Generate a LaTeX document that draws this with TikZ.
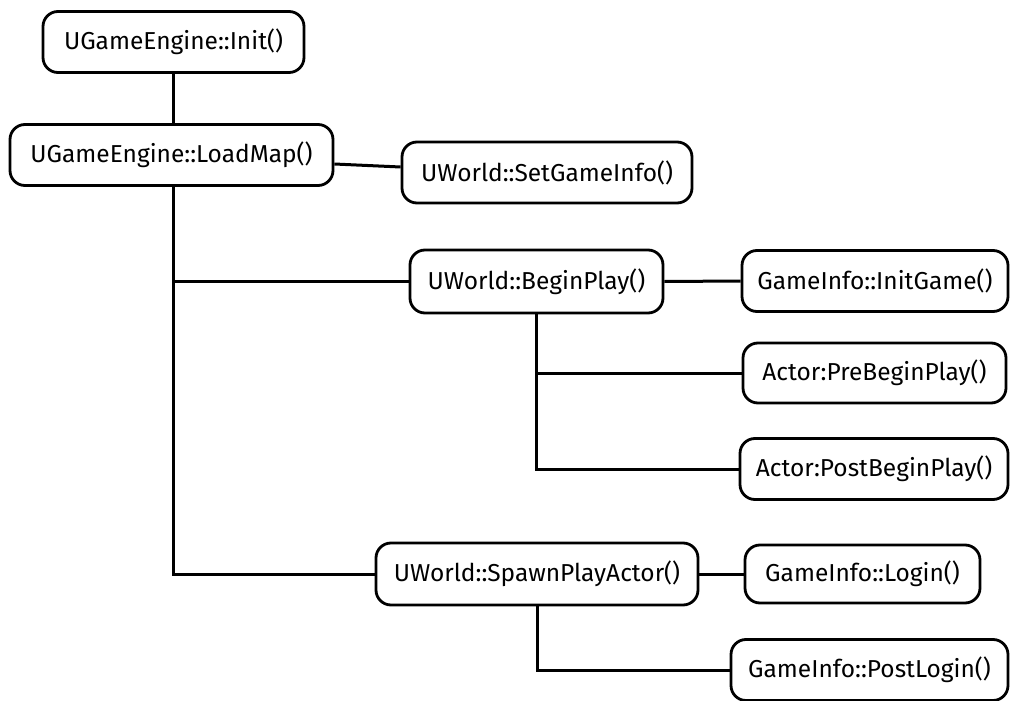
\documentclass[tikz,border=0pt]{standalone}
\usepackage{fontspec}
\setmainfont{Fira Sans}
\begin{document}
\begin{tikzpicture}[x=1pt,y=-1pt,
  fn/.style={draw, line width=2.8pt, rounded corners=15pt, inner sep=0pt,
    minimum height=61pt, align=center, font=\fontsize{24.5}{28}\selectfont},
  link/.style={line width=3pt}]
\useasboundingbox (0,0) rectangle (1010,701);
% call boxes
\node[fn, minimum width=261pt] (init)   at (173.5,42)  {UGameEngine::Init()};
\node[fn, minimum width=323pt] (load)   at (171.5,155) {UGameEngine::LoadMap()};
\node[fn, minimum width=290pt] (setgi)  at (547,172.5) {UWorld::SetGameInfo()};
\node[fn, minimum width=253pt, minimum height=63pt] (begin) at (536.5,281.5) {UWorld::BeginPlay()};
\node[fn, minimum width=266pt] (initg)  at (875,281)   {GameInfo::InitGame()};
\node[fn, minimum width=263pt, minimum height=60pt] (pre) at (874.5,373) {Actor:PreBeginPlay()};
\node[fn, minimum width=268pt] (post)   at (874,469)   {Actor:PostBeginPlay()};
\node[fn, minimum width=322pt, minimum height=62pt] (spawn) at (537,574) {UWorld::SpawnPlayActor()};
\node[fn, minimum width=235pt, minimum height=58pt] (login) at (862.5,574) {GameInfo::Login()};
\node[fn, minimum width=277pt] (plogin) at (869.5,670) {GameInfo::PostLogin()};
% call tree
\draw[link] (init.south) -- (init.south |- load.north);
\draw[link] ([yshift=-9pt]load.east) -- ([yshift=5.5pt]setgi.west);
\draw[link] ([xshift=1.5pt]load.south) -- ([xshift=1.5pt]load.south |- spawn.west) -- (spawn.west);
\draw[link] ([xshift=1.5pt]load.south |- begin.west) -- (begin.west);
\draw[link] (begin.east) -- (initg.west);
\draw[link] (begin.south) -- (begin.south |- post.west) -- (post.west);
\draw[link] (begin.south |- pre.west) -- (pre.west);
\draw[link] (spawn.east) -- (login.west);
\draw[link] (spawn.south) -- (spawn.south |- plogin.west) -- (plogin.west);
\end{tikzpicture}
\end{document}
